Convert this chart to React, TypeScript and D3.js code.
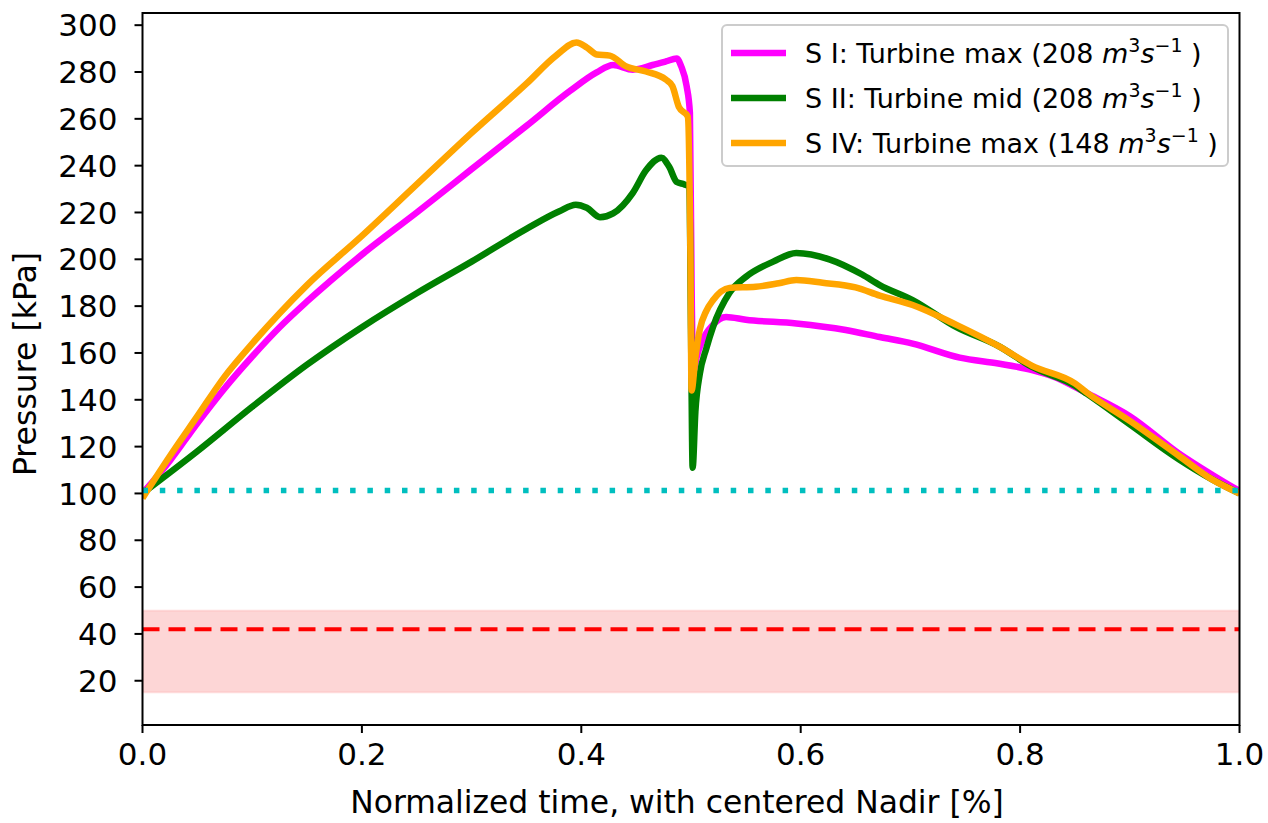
import React from 'react';
import * as d3 from 'd3';

// S I: Turbine max (208 m3/s)
const timeS1 = [0, 0.025, 0.05, 0.075, 0.1, 0.125, 0.15, 0.2, 0.25, 0.3, 0.35, 0.39, 0.414, 0.429, 0.447, 0.465, 0.477, 0.487, 0.491, 0.496, 0.499, 0.5005, 0.502, 0.505, 0.51, 0.52, 0.532, 0.55, 0.596, 0.641, 0.672, 0.702, 0.745, 0.78, 0.811, 0.83, 0.861, 0.9, 0.945, 0.975, 1.0];
const pressureS1 = [100, 114, 130, 145, 158.5, 171, 182, 202, 220, 238.5, 257, 272, 279.8, 283, 281, 283, 284.5, 285.8, 282.5, 274, 262.6, 190, 152, 158, 165, 172, 175.4, 174.2, 172.6, 169.8, 166.8, 164, 158, 155.5, 152.7, 150, 142.8, 133, 117, 108, 101];

// S II: Turbine mid (208 m3/s)
const timeS2 = [0, 0.05, 0.1, 0.15, 0.2, 0.25, 0.3, 0.35, 0.38, 0.395, 0.405, 0.417, 0.429, 0.447, 0.459, 0.473, 0.48, 0.487, 0.494, 0.4985, 0.5, 0.5015, 0.504, 0.508, 0.514, 0.52, 0.535, 0.55, 0.575, 0.596, 0.626, 0.656, 0.672, 0.702, 0.742, 0.78, 0.811, 0.85, 0.861, 0.9, 0.945, 0.975, 1.0];
const pressureS2 = [100, 118, 137, 155, 171, 185.5, 199, 213, 220.5, 223.3, 222, 218, 219.6, 228.4, 238, 243.4, 239.6, 233, 232, 231, 170, 111, 135, 151, 162, 171, 185.6, 192.5, 199, 202.7, 200, 193.5, 189, 182.6, 171, 163, 154, 146, 142.5, 129.5, 114.5, 106, 100];

// S IV: Turbine max (148 m3/s)
const timeS4 = [0, 0.025, 0.05, 0.075, 0.1, 0.125, 0.15, 0.2, 0.25, 0.3, 0.35, 0.377, 0.3956, 0.405, 0.414, 0.426, 0.441, 0.459, 0.477, 0.483, 0.489, 0.497, 0.4995, 0.5005, 0.504, 0.508, 0.514, 0.52, 0.535, 0.559, 0.58, 0.596, 0.62, 0.65, 0.672, 0.702, 0.742, 0.78, 0.811, 0.85, 0.861, 0.9, 0.945, 0.975, 1.0];
const pressureS4 = [98, 116, 133, 150, 164, 177, 189, 210, 232, 254, 275, 287, 292.6, 290.5, 287.5, 287, 282.4, 280.2, 276.8, 274, 265, 261, 200, 144, 158, 170, 178, 182.5, 187.8, 188.3, 189.8, 191.2, 190, 188, 184.5, 180.5, 172, 163, 154.5, 147, 143, 131, 116, 106, 100];

const seriesLabels = ['S I: Turbine max', 'S II: Turbine mid', 'S IV: Turbine max'];
const seriesFlows = ['208', '208', '148'];
const seriesColors = ['#ff00ff', '#008000', '#ffa500'];

const atmosphericPressure = 101.3;
const limitPressure = 42;
const limitBand = [15, 50];

const xTicks = [0, 0.2, 0.4, 0.6, 0.8, 1.0];
const yTicks = [20, 40, 60, 80, 100, 120, 140, 160, 180, 200, 220, 240, 260, 280, 300];

const FONT = 'DejaVu Sans, sans-serif';

export default function App() {
  const left = 142.5, right = 1239.5, top = 13, bottom = 725;

  const x = d3.scaleLinear().domain([0, 1]).range([left, right]);
  const y = d3.scaleLinear().domain([1.1, 305.2]).range([bottom, top]);

  const series = [
    { t: timeS1, p: pressureS1 },
    { t: timeS2, p: pressureS2 },
    { t: timeS4, p: pressureS4 },
  ];

  const line = d3.line<[number, number]>()
    .x(d => x(d[0]))
    .y(d => y(d[1]))
    .curve(d3.curveMonotoneX);

  const legX = 722, legY = 25, legW = 506, legH = 141, rowH = 45;

  return (
    <svg width={1268} height={823} style={{ position: 'absolute', left: 0, top: 0, background: '#fff' }} fontFamily={FONT}>
      <defs>
        <clipPath id="plotArea">
          <rect x={left} y={top} width={right - left} height={bottom - top} />
        </clipPath>
      </defs>

      <g clipPath="url(#plotArea)">
        {series.map((s, i) => (
          <path key={i}
            d={line(s.t.map((t, j) => [t, s.p[j]] as [number, number])) || ''}
            fill="none" stroke={seriesColors[i]} strokeWidth={6.5}
            strokeLinejoin="round" strokeLinecap="butt" />
        ))}

        <line x1={x(0)} x2={x(1)} y1={y(atmosphericPressure)} y2={y(atmosphericPressure)}
          stroke="#00bfbf" strokeWidth={5.5} strokeDasharray="5.5,11.8" />

        <rect x={x(0)} width={x(1) - x(0)} y={y(limitBand[1])} height={y(limitBand[0]) - y(limitBand[1])}
          fill="#f00000" fillOpacity={0.16} stroke="#ff0000" strokeOpacity={0.08} strokeWidth={2} />
        <line x1={x(0)} x2={x(1)} y1={y(limitPressure)} y2={y(limitPressure)}
          stroke="#ff0000" strokeWidth={4.2} strokeDasharray="17,9" />
      </g>

      {/* frame */}
      <rect x={left} y={top} width={right - left} height={bottom - top} fill="none" stroke="#000" strokeWidth={2} />

      {/* y axis */}
      {yTicks.map(v => (
        <g key={v}>
          <line x1={left - 8} x2={left} y1={y(v)} y2={y(v)} stroke="#000" strokeWidth={2} />
          <text x={left - 25} y={y(v)} dy="0.36em" textAnchor="end" fontSize={31}>{v}</text>
        </g>
      ))}
      <text transform={`translate(36,${(top + bottom) / 2 - 5}) rotate(-90)`} textAnchor="middle" fontSize={31.5}>Pressure [kPa]</text>

      {/* x axis */}
      {xTicks.map(v => (
        <g key={v}>
          <line x1={x(v)} x2={x(v)} y1={bottom} y2={bottom + 8} stroke="#000" strokeWidth={2} />
          <text x={x(v)} y={765} textAnchor="middle" fontSize={31}>{v.toFixed(1)}</text>
        </g>
      ))}
      <text x={677} y={813} textAnchor="middle" fontSize={31.4}>Normalized time, with centered Nadir [%]</text>

      {/* legend */}
      <rect x={legX} y={legY} width={legW} height={legH} rx={5} fill="#fff" fillOpacity={0.8} stroke="#cccccc" strokeWidth={2} />
      {seriesLabels.map((lab, i) => {
        const cy = legY + 28 + i * rowH;
        return (
          <g key={lab}>
            <line x1={731} x2={786} y1={cy} y2={cy} stroke={seriesColors[i]} strokeWidth={6.5} />
            <text x={805} y={cy} dy="0.36em" fontSize={27}>
              <tspan>{`${lab} (${seriesFlows[i]} `}</tspan>
              <tspan fontStyle="italic">m</tspan>
              <tspan fontSize={19} dy={-11}>3</tspan>
              <tspan fontStyle="italic" dy={11}>s</tspan>
              <tspan fontSize={19} dy={-11}>−1</tspan>
              <tspan dy={11}>{'\u00a0)'}</tspan>
            </text>
          </g>
        );
      })}
    </svg>
  );
}
